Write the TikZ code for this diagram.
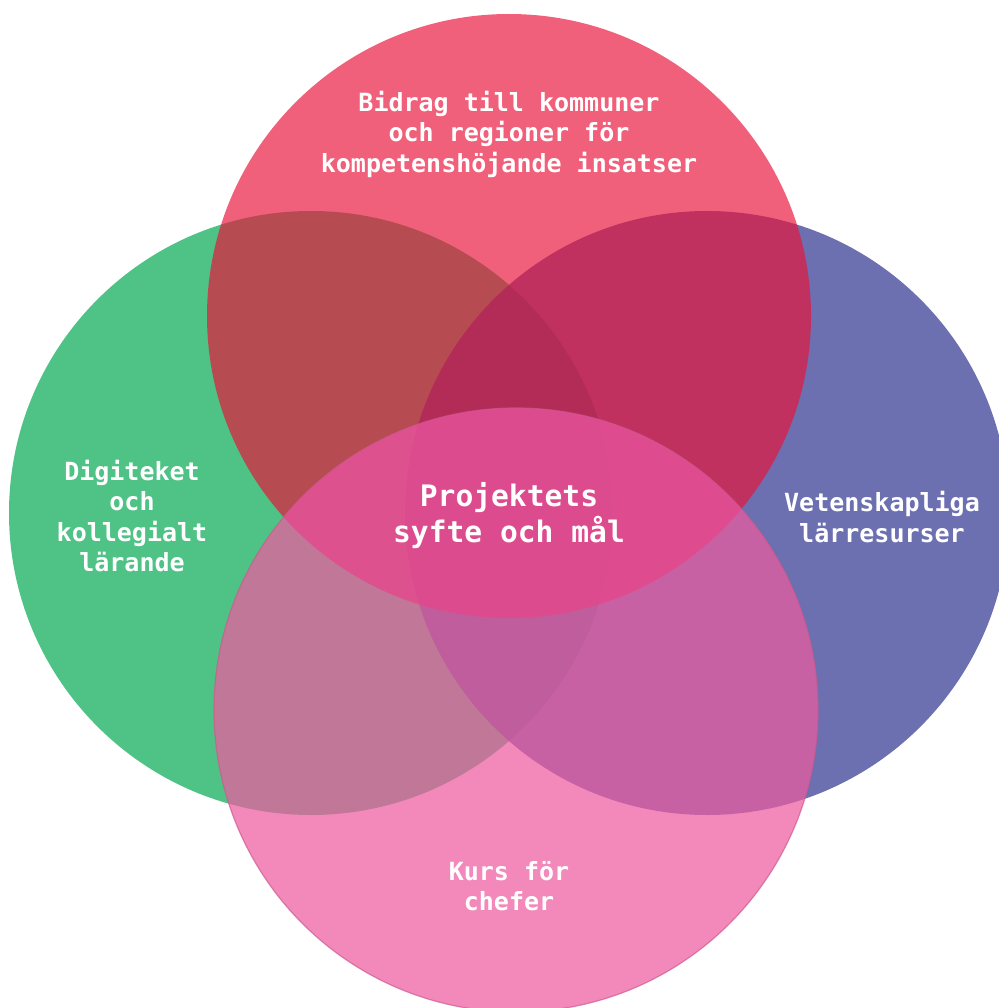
\documentclass[tikz,border=0pt]{standalone}
\usepackage{fontspec}
\setmonofont{DejaVu Sans Mono}

\definecolor{digigreen}{RGB}{79,194,133}
\definecolor{vetblue}{RGB}{71,75,156}
\definecolor{bidragred}{RGB}{233,18,57}
\definecolor{kurspink}{RGB}{237,92,160}
\definecolor{kursrim}{RGB}{205,90,140}
\definecolor{centremix}{RGB}{222,72,150}

\begin{document}
\begin{tikzpicture}[x=1pt,y=-1pt,
    vennlabel/.style={text=white, align=center, font=\ttfamily\bfseries\fontsize{25}{30.5}\selectfont},
    centrelabel/.style={text=white, align=center, font=\ttfamily\bfseries\fontsize{29.6}{36}\selectfont}]
%% page is the size of the picture, pixel coordinates with y going down
\useasboundingbox (0,0) rectangle (998,1008);
%% The four circles, drawn from the back to the front
\fill[digigreen] (311,513) circle (302pt);
\fill[vetblue, fill opacity=.8] (707,513) circle (302pt);
\fill[bidragred, fill opacity=.67] (509,316) circle (302pt);
\draw[kursrim, line width=1.2pt, draw opacity=.7, fill=kurspink, fill opacity=.72] (516,710) circle (302pt);
%% the middle lens a bit deeper
\begin{scope}[fill opacity=.35]
    \clip (509,316) circle (302pt);
    \fill[centremix] (516,710) circle (302pt);
\end{scope}
%% labels
\node[vennlabel] (bidrag) at (509,134) {Bidrag till kommuner\\och regioner för\\kompetenshöjande insatser};
\node[vennlabel] (digiteket) at (132,516) {Digiteket\\och\\kollegialt\\lärande};
\node[vennlabel] (vetenskap) at (882,517) {Vetenskapliga\\lärresurser};
\node[vennlabel] (kurs) at (509,886) {Kurs för\\chefer};
\node[centrelabel] (syfte) at (509,516) {Projektets\\syfte och mål};
%\draw[help lines, step=50] (0,0) grid (998,1008);
\end{tikzpicture}
\end{document}
